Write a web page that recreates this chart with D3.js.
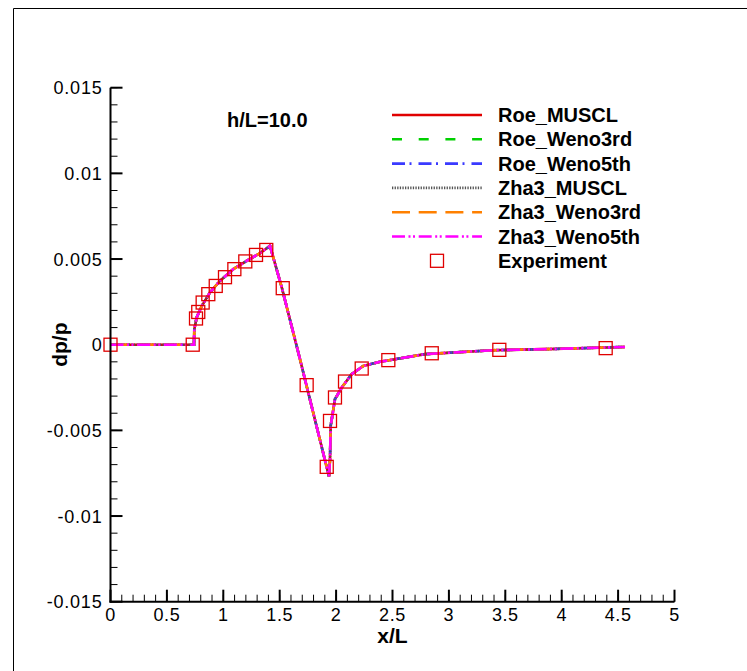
<!DOCTYPE html>
<html><head><meta charset="utf-8">
<script src="https://cdn.jsdelivr.net/npm/d3@7"></script>
<style>
html,body{margin:0;padding:0;background:#fff;}
svg{display:block;font-family:"Liberation Sans",Arial,sans-serif;}
</style></head>
<body>
<script>
// ---- data ----
const curveX = [0, 0.740, 0.743, 0.764, 0.809, 0.882, 0.970, 1.089, 1.207, 1.325, 1.414, 1.520, 1.680, 1.937, 1.946, 1.952, 1.990, 2.050, 2.138, 2.241, 2.389, 2.522, 2.788, 3.394, 3.867, 4.561];
const curveY = [0, 0, 0.00090, 0.00159, 0.00226, 0.00305, 0.00372, 0.00441, 0.00489, 0.00534, 0.00577, 0.00330, -0.00085, -0.00769, -0.00668, -0.00474, -0.00318, -0.00250, -0.00172, -0.00124, -0.00100, -0.00085, -0.00055, -0.00032, -0.00026, -0.00013];
const expX = [0, 0.729, 0.758, 0.778, 0.817, 0.867, 0.933, 1.015, 1.098, 1.195, 1.290, 1.381, 1.527, 1.739, 1.946, 1.917, 1.990, 2.079, 2.227, 2.463, 2.848, 3.447, 4.390];
const expY = [0, 0, 0.00153, 0.00191, 0.00246, 0.00295, 0.00343, 0.00394, 0.00441, 0.00486, 0.00524, 0.00553, 0.00330, -0.00236, -0.00445, -0.00713, -0.00308, -0.00215, -0.00139, -0.00090, -0.00050, -0.00030, -0.00020];
const seriesNames = ["Roe_MUSCL", "Roe_Weno3rd", "Roe_Weno5th", "Zha3_MUSCL", "Zha3_Weno3rd", "Zha3_Weno5th"];
const expName = "Experiment";
const xTicks = [0, 0.5, 1, 1.5, 2, 2.5, 3, 3.5, 4, 4.5, 5];
const yTicks = [-0.015, -0.01, -0.005, 0, 0.005, 0.01, 0.015];
const yTickLabels = ["-0.015", "-0.01", "-0.005", "0", "0.005", "0.01", "0.015"];
const annotation = "h/L=10.0";

// ---- styles ----
const styles = [
  {color: "#e00000", dash: null},
  {color: "#00d000", dash: "10,16.7"},
  {color: "#3a3aff", dash: "13,4.5,2,7"},
  {color: "#555555", dash: "1.3,1.3"},
  {color: "#ff8000", dash: "18,8.7"},
  {color: "#ff00ff", dash: "13,3.5,2,2.5,2,3.7"}
];

const W = 747, H = 671;
const svg = d3.select("body").append("svg").attr("width", W).attr("height", H);

// frame
svg.append("line").attr("x1", 13.5).attr("y1", 8.5).attr("x2", 13.5).attr("y2", H).attr("stroke", "#000").attr("stroke-width", 1);
svg.append("line").attr("x1", 13.5).attr("y1", 8.5).attr("x2", W).attr("y2", 8.5).attr("stroke", "#000").attr("stroke-width", 1);

const x = d3.scaleLinear().domain([0, 5]).range([110.5, 674.5]);
const y = d3.scaleLinear().domain([-0.015, 0.015]).range([601.7, 87.7]);

const x0 = x(0), y0 = y(-0.015);

// minor ticks
const xMinor = d3.range(0, 51).map(i => i / 10);
const yMinor = d3.range(-15, 16).map(i => i / 1000);
const g = svg.append("g");
g.selectAll(".xm").data(xMinor).enter().append("line")
  .attr("x1", d => x(d)).attr("x2", d => x(d)).attr("y1", y0).attr("y2", y0 - 7)
  .attr("stroke", "#000").attr("stroke-width", 1);
g.selectAll(".ym").data(yMinor).enter().append("line")
  .attr("y1", d => y(d)).attr("y2", d => y(d)).attr("x1", x0).attr("x2", x0 + 7)
  .attr("stroke", "#000").attr("stroke-width", 1);
// major ticks
g.selectAll(".xM").data(xTicks).enter().append("line")
  .attr("x1", d => x(d)).attr("x2", d => x(d)).attr("y1", y0).attr("y2", y0 - 12)
  .attr("stroke", "#000").attr("stroke-width", 2);
g.selectAll(".yM").data(yTicks).enter().append("line")
  .attr("y1", d => y(d)).attr("y2", d => y(d)).attr("x1", x0).attr("x2", x0 + 12)
  .attr("stroke", "#000").attr("stroke-width", 2);

// curves
const line = d3.line().x(d => x(d[0])).y(d => y(d[1]));
const pts = curveX.map((v, i) => [v, curveY[i]]);
seriesNames.forEach((n, i) => {
  svg.append("path").datum(pts).attr("d", line).attr("fill", "none")
    .attr("stroke", styles[i].color).attr("stroke-width", 2.6)
    .attr("stroke-dasharray", styles[i].dash);
});

// experiment squares
const sq = 13;
svg.selectAll(".exp").data(expX.map((v, i) => [v, expY[i]])).enter().append("rect")
  .attr("x", d => x(d[0]) - sq / 2).attr("y", d => y(d[1]) - sq / 2)
  .attr("width", sq).attr("height", sq).attr("fill", "none")
  .attr("stroke", "#e00000").attr("stroke-width", 1.3);

// axis lines
svg.append("line").attr("x1", x0).attr("x2", x0).attr("y1", y(0.015)).attr("y2", y0 + 1).attr("stroke", "#000").attr("stroke-width", 2);
svg.append("line").attr("x1", x0 - 1).attr("x2", x(5)).attr("y1", y0).attr("y2", y0).attr("stroke", "#000").attr("stroke-width", 2);

// tick labels
svg.selectAll(".xl").data(xTicks).enter().append("text")
  .attr("x", d => x(d)).attr("y", y0 + 19).attr("text-anchor", "middle")
  .attr("font-size", 18).attr("letter-spacing", 0.6).text(d => String(d));
svg.selectAll(".yl").data(yTicks).enter().append("text")
  .attr("x", x0 - 8).attr("y", d => y(d) + 6.5).attr("text-anchor", "end")
  .attr("font-size", 18).attr("letter-spacing", 0.8).text((d, i) => yTickLabels[i]);

// axis titles
svg.append("text").attr("x", (x(0) + x(5)) / 2).attr("y", 643).attr("text-anchor", "middle")
  .attr("font-size", 21).attr("font-weight", "bold").text("x/L");
svg.append("text").attr("transform", `translate(67,${y(0)}) rotate(-90)`).attr("text-anchor", "middle")
  .attr("font-size", 21).attr("font-weight", "bold").text("dp/p");

// annotation
svg.append("text").attr("x", 227).attr("y", 127).attr("font-size", 20).attr("font-weight", "bold").text(annotation);

// legend
const lgX1 = 392, lgX2 = 482, lgTX = 498, lgY0 = 115, lgDy = 24.3;
seriesNames.forEach((n, i) => {
  const yy = lgY0 + i * lgDy;
  svg.append("line").attr("x1", lgX1).attr("x2", lgX2).attr("y1", yy).attr("y2", yy)
    .attr("stroke", styles[i].color).attr("stroke-width", 2.6).attr("stroke-dasharray", styles[i].dash);
  svg.append("text").attr("x", lgTX).attr("y", yy + 7).attr("font-size", 20).attr("font-weight", "bold").text(n);
});
const ey = lgY0 + 6 * lgDy;
svg.append("rect").attr("x", (lgX1 + lgX2) / 2 - sq / 2).attr("y", ey - sq / 2).attr("width", sq).attr("height", sq)
  .attr("fill", "none").attr("stroke", "#e00000").attr("stroke-width", 1.3);
svg.append("text").attr("x", lgTX).attr("y", ey + 7).attr("font-size", 20).attr("font-weight", "bold").text(expName);
</script>
</body></html>
